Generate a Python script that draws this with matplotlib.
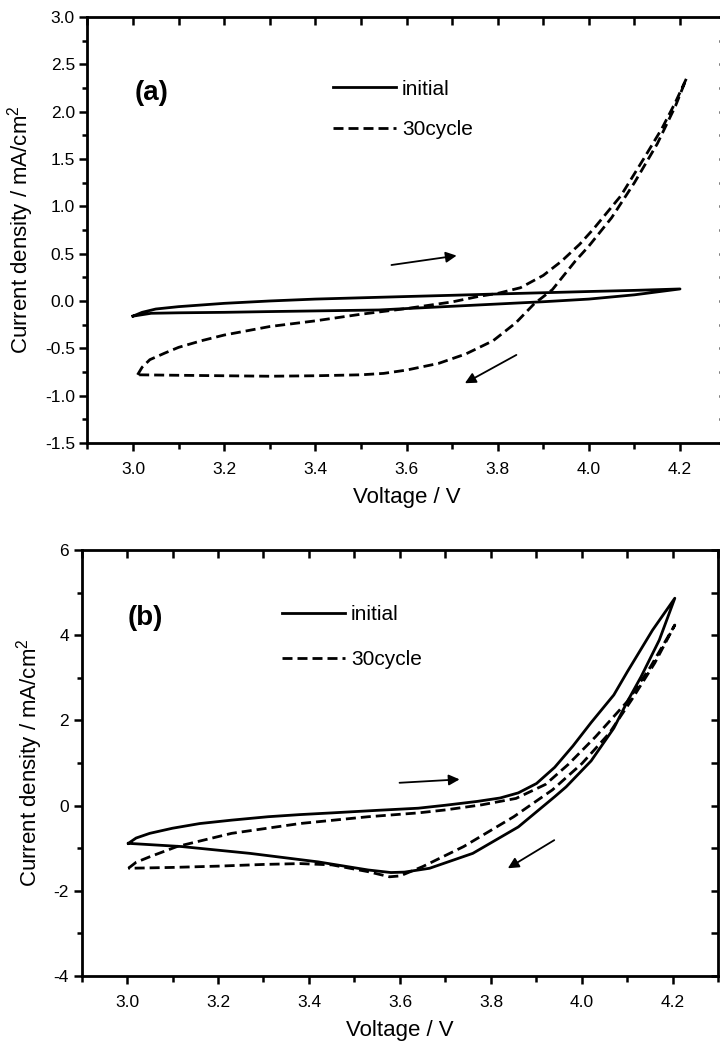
import matplotlib
matplotlib.use("Agg")
import matplotlib.pyplot as plt
from matplotlib.ticker import MultipleLocator

plt.rcParams['font.family'] = ['Liberation Sans', 'DejaVu Sans']
plt.rcParams['mathtext.fontset'] = 'custom'
plt.rcParams['mathtext.rm'] = 'Liberation Sans'
plt.rcParams['axes.unicode_minus'] = False

# (a) initial cycle: anodic sweep then cathodic sweep
a_init_v = [3.00, 3.02, 3.05, 3.10, 3.20, 3.30, 3.40, 3.54, 3.60, 3.70, 3.80, 3.90, 4.00, 4.10, 4.20,
            4.10, 4.00, 3.90, 3.80, 3.70, 3.60, 3.54, 3.40, 3.30, 3.20, 3.10, 3.04, 3.00]
a_init_i = [-0.16, -0.12, -0.085, -0.06, -0.025, 0.0, 0.02, 0.039, 0.047, 0.06, 0.074, 0.087, 0.10, 0.112, 0.127,
            0.065, 0.02, -0.008, -0.032, -0.056, -0.08, -0.095, -0.105, -0.112, -0.12, -0.125, -0.13, -0.16]
# (a) 30th cycle
a_30_v = [3.01, 3.02, 3.037, 3.07, 3.10, 3.15, 3.20, 3.30, 3.40, 3.50, 3.60, 3.70, 3.76, 3.80, 3.85, 3.90,
          3.94, 3.98, 4.01, 4.07, 4.12, 4.16, 4.19, 4.214,
          4.19, 4.15, 4.10, 4.05, 4.00, 3.97, 3.92, 3.88, 3.84, 3.79, 3.73, 3.67, 3.60, 3.55, 3.50,
          3.40, 3.30, 3.20, 3.10, 3.01]
a_30_i = [-0.78, -0.70, -0.62, -0.55, -0.49, -0.42, -0.36, -0.27, -0.21, -0.14, -0.08, -0.01, 0.05, 0.08, 0.14, 0.27,
          0.42, 0.60, 0.76, 1.11, 1.50, 1.82, 2.10, 2.35,
          2.06, 1.66, 1.25, 0.88, 0.58, 0.42, 0.12, -0.03, -0.23, -0.42, -0.56, -0.66, -0.73, -0.765, -0.78,
          -0.79, -0.795, -0.79, -0.785, -0.78]

# (b) initial cycle
b_init_v = [3.003, 3.02, 3.05, 3.10, 3.16, 3.23, 3.31, 3.38, 3.45, 3.55, 3.64, 3.70, 3.77, 3.82, 3.86, 3.90,
            3.94, 3.98, 4.02, 4.07, 4.10, 4.155, 4.204,
            4.17, 4.13, 4.10, 4.07, 4.02, 3.965, 3.94, 3.86, 3.76, 3.665, 3.61, 3.58, 3.53, 3.42, 3.27, 3.12, 3.003]
b_init_i = [-0.885, -0.76, -0.65, -0.53, -0.42, -0.34, -0.26, -0.21, -0.17, -0.11, -0.06, 0.01, 0.10, 0.18, 0.30, 0.52,
            0.90, 1.40, 1.95, 2.60, 3.15, 4.12, 4.87,
            3.89, 3.03, 2.45, 1.82, 1.05, 0.44, 0.21, -0.50, -1.12, -1.47, -1.56, -1.57, -1.51, -1.32, -1.12, -0.96, -0.885]
# (b) 30th cycle
b_30_v = [3.003, 3.02, 3.05, 3.11, 3.23, 3.38, 3.53, 3.64, 3.70, 3.78, 3.855, 3.92, 3.97, 4.03, 4.10, 4.15, 4.204,
          4.16, 4.11, 4.06, 4.00, 3.935, 3.85, 3.74, 3.65, 3.60, 3.577, 3.53, 3.45, 3.38, 3.30, 3.20, 3.10, 3.003]
b_30_i = [-1.47, -1.33, -1.20, -0.96, -0.65, -0.42, -0.26, -0.17, -0.10, 0.02, 0.17, 0.50, 0.97, 1.62, 2.45, 3.25, 4.24,
          3.35, 2.50, 1.70, 0.99, 0.37, -0.26, -0.96, -1.43, -1.65, -1.67, -1.55, -1.39, -1.36, -1.38, -1.42, -1.45, -1.47]

# sweep direction arrows (start, end) in data coords
a_arrows = [((3.567, 0.38), (3.71, 0.479)), ((3.841, -0.57), (3.728, -0.869))]
b_arrows = [((3.599, 0.537), (3.731, 0.617)), ((3.939, -0.81), (3.837, -1.47))]

DASH = (0, (3.6, 1.8))
LW = 2.0

fig = plt.figure(figsize=(7.2, 10.43), dpi=100)
ax1 = fig.add_axes([0.1214, 0.5753, 0.8864, 0.4084])
ax2 = fig.add_axes([0.1132, 0.0642, 0.8847, 0.4084])


def style_axes(ax, ylim, ymaj, ymin):
    ax.set_xlim(2.9, 4.3)
    ax.set_ylim(*ylim)
    ax.xaxis.set_major_locator(MultipleLocator(0.2))
    ax.xaxis.set_minor_locator(MultipleLocator(0.1))
    ax.yaxis.set_major_locator(MultipleLocator(ymaj))
    ax.yaxis.set_minor_locator(MultipleLocator(ymin))
    for s in ax.spines.values():
        s.set_linewidth(2.0)
    ax.tick_params(axis='x', which='major', direction='out', length=6, width=1.8, pad=8, labelsize=12.5)
    ax.tick_params(axis='x', which='minor', direction='out', length=4, width=1.8)
    ax.tick_params(axis='y', which='major', direction='out', length=6, width=1.8, pad=3, labelsize=12.5)
    ax.tick_params(axis='y', which='minor', direction='out', length=3.5, width=1.8)
    top = ax.secondary_xaxis('top')
    top.xaxis.set_major_locator(MultipleLocator(0.2))
    top.xaxis.set_minor_locator(MultipleLocator(0.1))
    top.tick_params(which='both', direction='in', length=6, width=1.8, labeltop=False)
    right = ax.secondary_yaxis('right')
    right.yaxis.set_major_locator(MultipleLocator(ymaj))
    right.yaxis.set_minor_locator(MultipleLocator(ymin))
    right.tick_params(which='major', direction='in', length=5, width=1.8, labelright=False)
    right.tick_params(which='minor', direction='in', length=5, width=1.8)
    ax.set_xlabel('Voltage / V', fontsize=16, labelpad=7)
    ax.set_ylabel('Current density / mA/cm$^2$', fontsize=16, labelpad=6)


def draw_arrows(ax, arrows):
    for (x0, y0), (x1, y1) in arrows:
        ax.annotate('', xy=(x1, y1), xytext=(x0, y0),
                    arrowprops=dict(arrowstyle='-|>', color='black', lw=1.3,
                                    mutation_scale=16, shrinkA=0, shrinkB=0))


ax1.plot(a_init_v, a_init_i, color='black', lw=LW, label='initial', solid_joinstyle='round')
ax1.plot(a_30_v, a_30_i, color='black', lw=LW, linestyle=DASH, label='30cycle')
style_axes(ax1, (-1.5, 3.0), 0.5, 0.25)
draw_arrows(ax1, a_arrows)
ax1.text(0.0746, 0.8216, '(a)', transform=ax1.transAxes, fontsize=20, fontweight='bold',
         ha='left', va='center')
ax1.legend(loc='upper left', bbox_to_anchor=(0.385, 0.853), frameon=False, fontsize=15,
           handlelength=3.0, handletextpad=0.3, labelspacing=1.05, borderpad=0, borderaxespad=0)

ax2.plot(b_init_v, b_init_i, color='black', lw=LW, label='initial', solid_joinstyle='round')
ax2.plot(b_30_v, b_30_i, color='black', lw=LW, linestyle=DASH, label='30cycle')
style_axes(ax2, (-4, 6), 2, 1)
draw_arrows(ax2, b_arrows)
ax2.text(0.073, 0.840, '(b)', transform=ax2.transAxes, fontsize=20, fontweight='bold',
         ha='left', va='center')
ax2.legend(loc='upper left', bbox_to_anchor=(0.315, 0.871), frameon=False, fontsize=15,
           handlelength=3.0, handletextpad=0.3, labelspacing=1.25, borderpad=0, borderaxespad=0)

fig.savefig('out.png', dpi=100)
